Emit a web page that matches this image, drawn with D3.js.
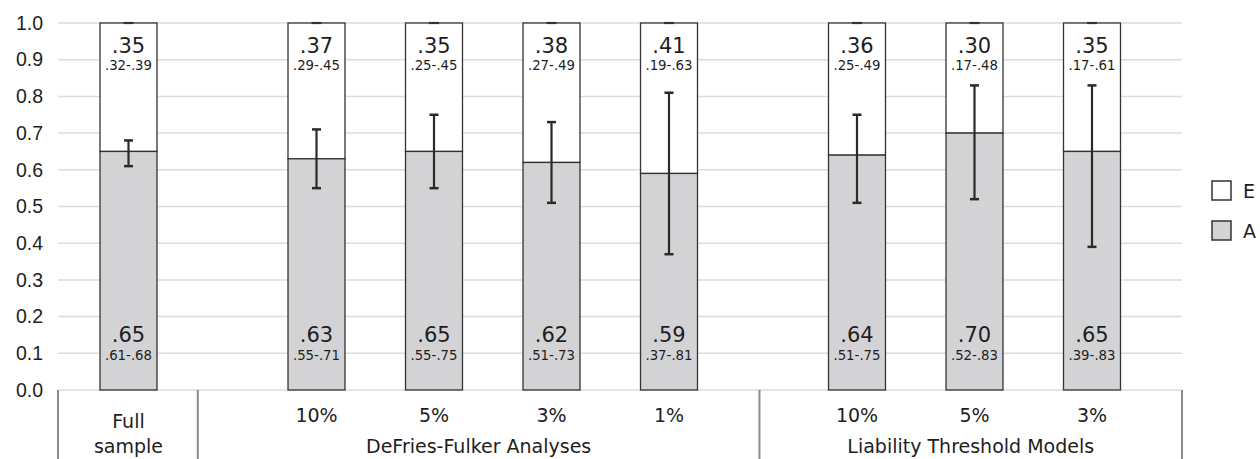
<!DOCTYPE html>
<html>
<head>
<meta charset="utf-8">
<script src="https://cdn.jsdelivr.net/npm/d3@7"></script>
<style>
  body { margin: 0; background: #fff; }
  svg { display: block; font-family: "DejaVu Sans", Verdana, sans-serif; }
  .grid line { stroke: #dcdcdc; stroke-width: 1.5; }
  .axis text { fill: #1e1e1e; }
</style>
</head>
<body>
<svg id="chart"></svg>
<script>
// Bars in order of appearance, with the group they belong to
const categories = ['Full sample', '10%', '5%', '3%', '1%', '10%', '5%', '3%'];
const groupOfBar = [0, 1, 1, 1, 1, 2, 2, 2];
const groups = ['', 'DeFries-Fulker Analyses', 'Liability Threshold Models'];

// A (bottom) and E (top) estimates with their intervals
const aValues = [.65, .63, .65, .62, .59, .64, .70, .65];
const aLow    = [.61, .55, .55, .51, .37, .51, .52, .39];
const aHigh   = [.68, .71, .75, .73, .81, .75, .83, .83];
const eValues = [.35, .37, .35, .38, .41, .36, .30, .35];
const eLow    = [.32, .29, .25, .27, .19, .25, .17, .17];
const eHigh   = [.39, .45, .45, .49, .63, .49, .48, .61];

const yTicks = [0, .1, .2, .3, .4, .5, .6, .7, .8, .9, 1];
const legendItems = ['E', 'A'];

class Barchart {

  constructor(_config) {
    this.config = {
      parentElement: _config.parentElement,
      containerWidth: _config.containerWidth || 1260,
      containerHeight: _config.containerHeight || 459,
      margin: _config.margin || {top: 23, right: 78, bottom: 69, left: 58}
    };
    this.initVis();
  }

  initVis() {
    let vis = this;

    vis.width = vis.config.containerWidth - vis.config.margin.left - vis.config.margin.right;
    vis.height = vis.config.containerHeight - vis.config.margin.top - vis.config.margin.bottom;

    vis.yScale = d3.scaleLinear()
      .domain([0, 1])
      .range([vis.height, 0]);

    // x in "slot" units: one bar per unit, groups separated by an extra 0.6
    vis.xScale = d3.scaleLinear()
      .domain([0, 9.566])
      .range([0, vis.width]);

    vis.svg = d3.select(vis.config.parentElement)
      .attr('width', vis.config.containerWidth)
      .attr('height', vis.config.containerHeight);

    vis.chart = vis.svg.append('g')
      .attr('transform', `translate(${vis.config.margin.left},${vis.config.margin.top})`);

    vis.gridG = vis.chart.append('g').attr('class', 'grid');
    vis.yAxisG = vis.chart.append('g').attr('class', 'axis y-axis');
    vis.barsG = vis.chart.append('g');
    vis.catG = vis.chart.append('g').attr('class', 'axis x-axis')
      .attr('transform', `translate(0,${vis.height})`);
    vis.legendG = vis.svg.append('g');
  }

  updateVis() {
    let vis = this;

    vis.data = categories.map((c, i) => ({
      cat: c, group: groupOfBar[i],
      pos: i + 0.6 + 0.6 * groupOfBar[i],
      a: aValues[i], aLo: aLow[i], aHi: aHigh[i],
      e: eValues[i], eLo: eLow[i], eHi: eHigh[i]
    }));

    vis.barWidth = vis.xScale(0.485) - vis.xScale(0);
    // group boundaries along x, in slot units
    vis.bounds = [0, 1.19, 5.97, 9.566];

    vis.renderVis();
  }

  renderVis() {
    let vis = this;
    const fmt = v => d3.format('.2f')(v).replace(/^0/, '');
    const bw = vis.barWidth;
    const cx = d => vis.xScale(d.pos);

    // Gridlines
    vis.gridG.selectAll('line')
      .data(yTicks)
      .join('line')
      .attr('x1', 0).attr('x2', vis.width)
      .attr('y1', d => vis.yScale(d)).attr('y2', d => vis.yScale(d));

    // Y axis: labels only
    const yAxis = d3.axisLeft(vis.yScale)
      .tickValues(yTicks)
      .tickFormat(d3.format('.1f'))
      .tickSize(0)
      .tickPadding(15);
    vis.yAxisG.call(yAxis);
    vis.yAxisG.select('.domain').remove();
    vis.yAxisG.selectAll('text').attr('font-size', 19.5).attr('font-family', null);

    const bar = vis.barsG.selectAll('.bar')
      .data(vis.data)
      .join('g')
      .attr('class', 'bar');

    // E segment on top
    bar.append('rect')
      .attr('x', d => cx(d) - bw / 2)
      .attr('width', bw)
      .attr('y', d => vis.yScale(d.a + d.e))
      .attr('height', d => vis.yScale(d.a) - vis.yScale(d.a + d.e))
      .attr('fill', '#fff')
      .attr('stroke', '#333')
      .attr('stroke-width', 1.3);

    // A segment
    bar.append('rect')
      .attr('x', d => cx(d) - bw / 2)
      .attr('width', bw)
      .attr('y', d => vis.yScale(d.a))
      .attr('height', d => vis.yScale(0) - vis.yScale(d.a))
      .attr('fill', '#d3d3d5')
      .attr('stroke', '#333')
      .attr('stroke-width', 1.3);

    // Cap at the top of each stack
    bar.append('line')
      .attr('x1', d => cx(d) - 5).attr('x2', d => cx(d) + 5)
      .attr('y1', d => vis.yScale(d.a + d.e)).attr('y2', d => vis.yScale(d.a + d.e))
      .attr('stroke', '#333').attr('stroke-width', 2.2);

    // Error bars for A
    bar.append('line')
      .attr('x1', cx).attr('x2', cx)
      .attr('y1', d => vis.yScale(d.aLo)).attr('y2', d => vis.yScale(d.aHi))
      .attr('stroke', '#2a2a2a').attr('stroke-width', 2.2);
    bar.selectAll('.cap')
      .data(d => [[d, d.aLo], [d, d.aHi]])
      .join('line')
      .attr('class', 'cap')
      .attr('x1', d => cx(d[0]) - 4.5).attr('x2', d => cx(d[0]) + 4.5)
      .attr('y1', d => vis.yScale(d[1])).attr('y2', d => vis.yScale(d[1]))
      .attr('stroke', '#2a2a2a').attr('stroke-width', 2.5);

    // Value labels
    bar.append('text')
      .attr('x', cx).attr('y', d => vis.yScale(d.a + d.e) + 30)
      .attr('text-anchor', 'middle').attr('font-size', 21).attr('fill', '#1e1e1e')
      .text(d => fmt(d.e));
    bar.append('text')
      .attr('x', cx).attr('y', d => vis.yScale(d.a + d.e) + 47)
      .attr('text-anchor', 'middle').attr('font-size', 13.3).attr('fill', '#1e1e1e')
      .text(d => `${fmt(d.eLo)}-${fmt(d.eHi)}`);
    bar.append('text')
      .attr('x', cx).attr('y', vis.yScale(0) - 48)
      .attr('text-anchor', 'middle').attr('font-size', 21).attr('fill', '#1e1e1e')
      .text(d => fmt(d.a));
    bar.append('text')
      .attr('x', cx).attr('y', vis.yScale(0) - 30)
      .attr('text-anchor', 'middle').attr('font-size', 13.3).attr('fill', '#1e1e1e')
      .text(d => `${fmt(d.aLo)}-${fmt(d.aHi)}`);

    // Category axis: separators, bar labels, group labels
    vis.catG.selectAll('.sep')
      .data(vis.bounds)
      .join('line')
      .attr('class', 'sep')
      .attr('x1', d => vis.xScale(d)).attr('x2', d => vis.xScale(d))
      .attr('y1', 0).attr('y2', vis.config.margin.bottom)
      .attr('stroke', '#8a8a8a').attr('stroke-width', 2);

    vis.catG.selectAll('.cat')
      .data(vis.data)
      .join('text')
      .attr('class', 'cat')
      .attr('text-anchor', 'middle')
      .attr('font-size', 19)
      .attr('fill', '#1e1e1e')
      .each(function(d) {
        const lines = d.cat.split(' ').length > 1 && d.group === 0 ? d.cat.split(' ') : [d.cat];
        const t = d3.select(this);
        t.selectAll('tspan')
          .data(lines)
          .join('tspan')
          .attr('x', cx(d))
          .attr('y', (l, i) => lines.length > 1 ? 38 + i * 25 : 32)
          .text(l => l);
      });

    vis.catG.selectAll('.grp')
      .data(groups)
      .join('text')
      .attr('class', 'grp')
      .attr('x', (d, i) => (vis.xScale(vis.bounds[i]) + vis.xScale(vis.bounds[i + 1])) / 2)
      .attr('y', 63)
      .attr('text-anchor', 'middle')
      .attr('font-size', 19)
      .attr('fill', '#1e1e1e')
      .text(d => d);

    // Legend
    const leg = vis.legendG.selectAll('g')
      .data(legendItems)
      .join('g')
      .attr('transform', (d, i) => `translate(1212,${181 + i * 40})`);
    leg.append('rect')
      .attr('width', 19).attr('height', 19)
      .attr('fill', d => d === 'A' ? '#d3d3d5' : '#fff')
      .attr('stroke', '#333').attr('stroke-width', 1.5);
    leg.append('text')
      .attr('x', 31).attr('y', 17)
      .attr('font-size', 19).attr('fill', '#1e1e1e')
      .text(d => d);
  }
}

const barchart = new Barchart({parentElement: '#chart'});
barchart.updateVis();
</script>
</body>
</html>
